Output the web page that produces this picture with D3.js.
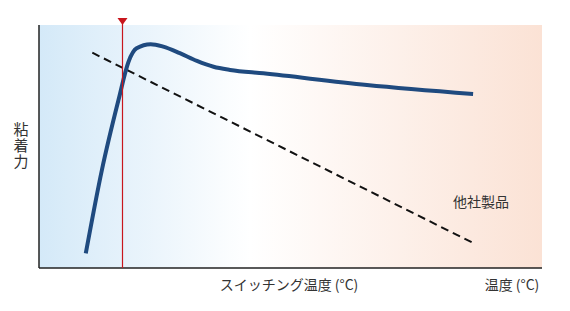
<!doctype html>
<html>
<head>
  <meta charset="utf-8">
  <title>粘着力と温度</title>
  <style>
    body { margin: 0; background: #fff; }
    text { font-family: "Noto Sans CJK JP", "Noto Sans", sans-serif; fill: #333; }
  </style>
</head>
<body>
  <div class="graphContainer"></div>
  <script src="https://cdn.jsdelivr.net/npm/d3@7"></script>
  <script>

// 自社製品 (solid curve), x: temperature 0-100, y: adhesion 0-100
var ourX = [9.3, 12.5, 15.8, 17.8, 19.4, 22.2, 24.7, 28.0, 31.4, 34.7, 38.0, 44.6, 65.2, 86.3];
var ourY = [6.0, 40.3, 69.1, 84.9, 90.4, 92.1, 91.1, 88.4, 85.2, 82.8, 81.5, 80.1, 75.3, 71.6];

// 他社製品 (dashed line)
var otherX = [10.6, 86.3];
var otherY = [88.6, 10.3];

var switchTemp = 16.6;

var labels = {
  y: "粘着力",
  switchLabel: "スイッチング温度 (°C)",
  xLabel: "温度 (°C)",
  other: "他社製品"
};

function draw() {
    var w = 570, h = 311;
    var left = 39, right = 542, top = 25, bottom = 268;

    var svg = d3.select(".graphContainer")
        .append("svg")
        .attr("width", w)
        .attr("height", h);

    var x = d3.scaleLinear().domain([0, 100]).range([left, right]);
    var y = d3.scaleLinear().domain([0, 100]).range([bottom, top]);

    var grad = svg.append("defs").append("linearGradient")
        .attr("id", "bg")
        .attr("x1", "0%").attr("x2", "100%")
        .attr("y1", "0%").attr("y2", "0%");
    grad.append("stop").attr("offset", "0%").attr("stop-color", "#d4e9f8");
    grad.append("stop").attr("offset", "42%").attr("stop-color", "#ffffff");
    grad.append("stop").attr("offset", "100%").attr("stop-color", "#fbe2d5");

    svg.append("rect")
        .attr("x", left).attr("y", top)
        .attr("width", right - left).attr("height", bottom - top)
        .attr("fill", "url(#bg)");

    // axes
    svg.append("line")
        .attr("x1", left).attr("x2", left)
        .attr("y1", top).attr("y2", bottom)
        .attr("stroke", "#222").attr("stroke-width", 1.5);
    svg.append("line")
        .attr("x1", left).attr("x2", right)
        .attr("y1", bottom).attr("y2", bottom)
        .attr("stroke", "#222").attr("stroke-width", 1.5);

    var line = d3.line()
        .x(function(d) { return x(d[0]); })
        .y(function(d) { return y(d[1]); });

    // other product: dashed
    svg.append("path")
        .datum(d3.zip(otherX, otherY))
        .attr("d", line)
        .attr("fill", "none")
        .attr("stroke", "#111")
        .attr("stroke-width", 2)
        .attr("stroke-dasharray", "8,5");

    // our product: solid curve
    svg.append("path")
        .datum(d3.zip(ourX, ourY))
        .attr("d", line.curve(d3.curveMonotoneX))
        .attr("fill", "none")
        .attr("stroke", "#1f4a7f")
        .attr("stroke-width", 4);

    // switching temperature marker (drawn on top)
    var sx = x(switchTemp);
    svg.append("line")
        .attr("x1", sx).attr("x2", sx)
        .attr("y1", 20).attr("y2", bottom)
        .attr("stroke", "#c8161d").attr("stroke-width", 1.2);
    svg.append("path")
        .attr("d", `M${sx - 5},18 L${sx + 5},18 L${sx},25 Z`)
        .attr("fill", "#c8161d");

    // texts
    svg.append("text")
        .attr("x", 21).attr("y", 122)
        .attr("writing-mode", "vertical-rl")
        .attr("font-size", 15)
        .attr("letter-spacing", 1)
        .text(labels.y);

    svg.append("text")
        .attr("x", 289).attr("y", 290)
        .attr("text-anchor", "middle")
        .attr("font-size", 14)
        .text(labels.switchLabel);

    svg.append("text")
        .attr("x", 512).attr("y", 290)
        .attr("text-anchor", "middle")
        .attr("font-size", 14)
        .text(labels.xLabel);

    svg.append("text")
        .attr("x", 481).attr("y", 207)
        .attr("text-anchor", "middle")
        .attr("font-size", 14)
        .text(labels.other);
}

draw();

  </script>
</body>
</html>
